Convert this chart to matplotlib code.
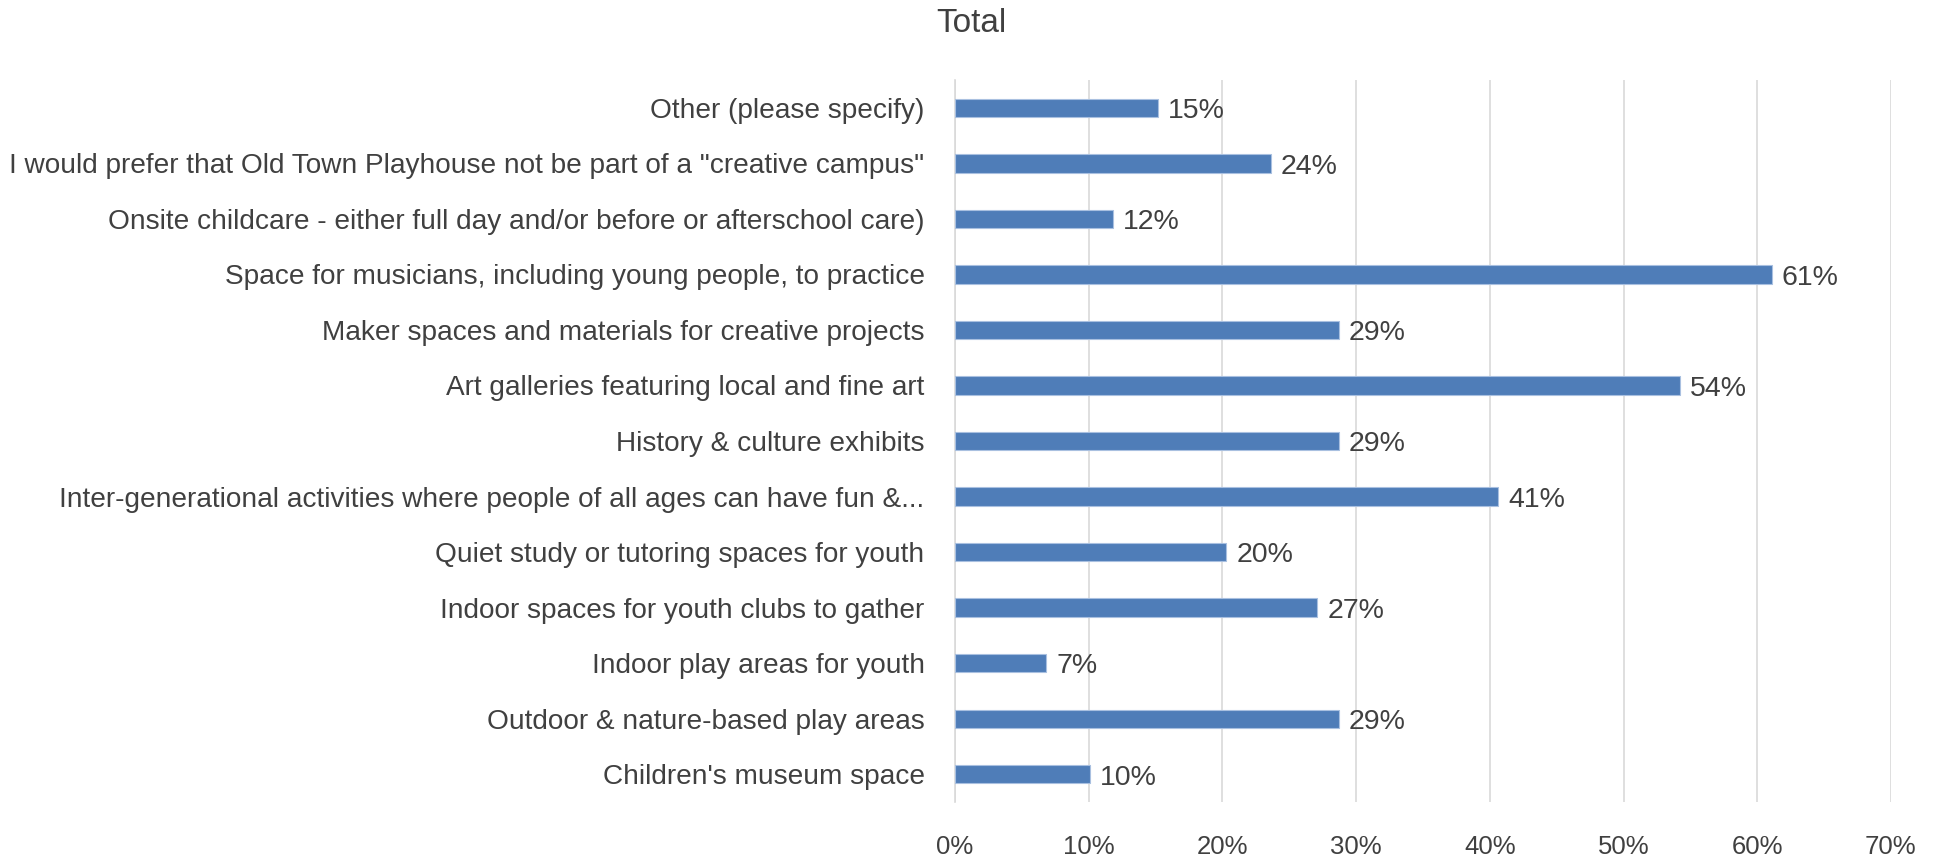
import matplotlib.pyplot as plt
from matplotlib.ticker import PercentFormatter

categories = [
    "Children's museum space",
    "Outdoor & nature-based play areas",
    "Indoor play areas for youth",
    "Indoor spaces for youth clubs to gather",
    "Quiet study or tutoring spaces for youth",
    "Inter-generational activities where people of all ages can have fun &...",
    "History & culture exhibits",
    "Art galleries featuring local and fine art",
    "Maker spaces and materials for creative projects",
    "Space for musicians, including young people, to practice",
    "Onsite childcare - either full day and/or before or afterschool care)",
    'I would prefer that Old Town Playhouse not be part of a "creative campus"',
    "Other (please specify)",
]
values = [10.1, 28.7, 6.8, 27.1, 20.3, 40.6, 28.7, 54.2, 28.7, 61.1, 11.8, 23.6, 15.2]
labels = ["10%", "29%", "7%", "27%", "20%", "41%", "29%", "54%", "29%", "61%", "12%", "24%", "15%"]
xticks = [0, 10, 20, 30, 40, 50, 60, 70]

plt.rcParams['font.family'] = ['Liberation Sans Narrow', 'Liberation Sans', 'DejaVu Sans']
text_color = '#404040'

fig = plt.figure(figsize=(19.4, 8.56), dpi=100)
ax = fig.add_axes([0.4923, 0.0631, 0.4824, 0.8434])

y = list(range(len(categories)))
ax.barh(y, values, height=0.33, color='#4F7DB8', edgecolor='#A9C0E0', linewidth=0.8, zorder=3)
for yi, v, lab in zip(y, values, labels):
    ax.text(v + 0.75, yi - 0.06, lab, va='center', ha='left', fontsize=20.5, color=text_color)

ax.set_xlim(0, 70)
ax.set_ylim(-0.5, len(categories) - 0.5)
ax.set_xticks(xticks)
ax.xaxis.set_major_formatter(PercentFormatter(decimals=0))
ax.set_yticks(y)
ax.set_yticklabels(categories, fontsize=20.2)
ax.tick_params(axis='both', length=0, labelcolor=text_color)
ax.tick_params(axis='x', labelsize=18.5, pad=24)
ax.tick_params(axis='y', pad=22)
ax.grid(axis='x', color='#D9D9D9', linewidth=1.2, zorder=0)
for s in ['top', 'right', 'bottom']:
    ax.spines[s].set_visible(False)
ax.spines['left'].set_color('#D9D9D9')
ax.spines['left'].set_linewidth(1.2)

fig.text(0.5005, 0.972, "Total", ha='center', va='center', fontsize=24, color=text_color)

plt.savefig('out.png', dpi=100)
